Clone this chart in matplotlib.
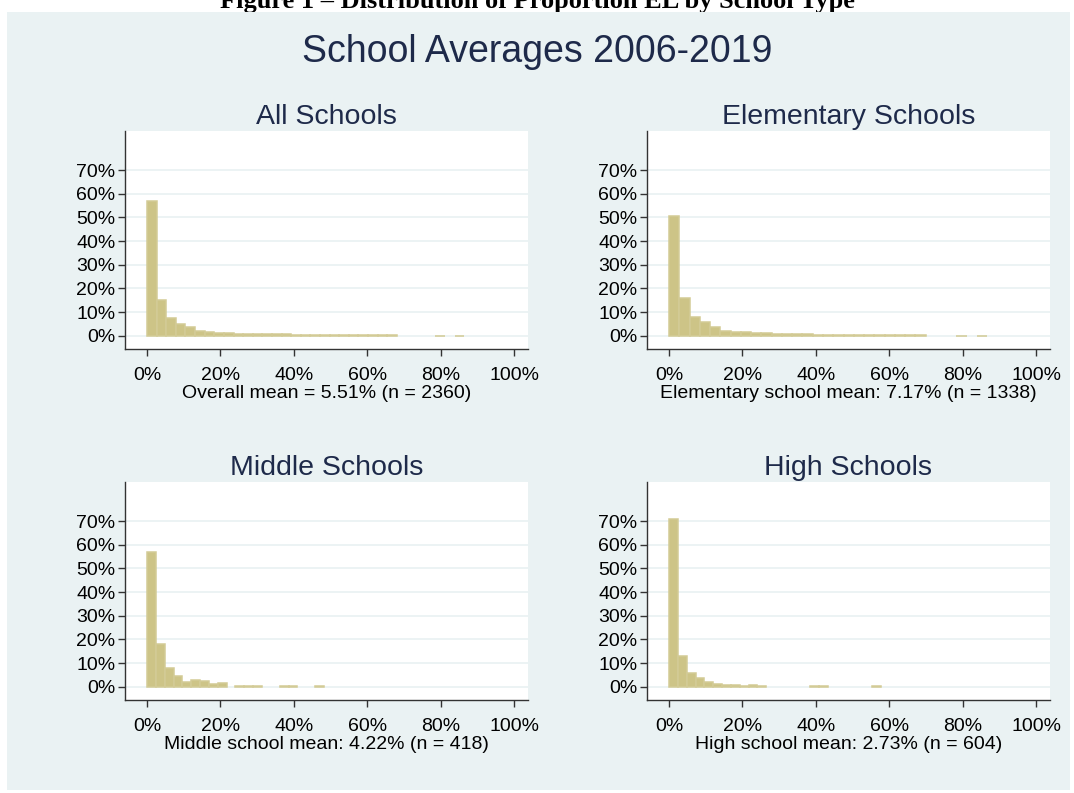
import matplotlib
matplotlib.use("Agg")
import matplotlib.pyplot as plt
from matplotlib.patches import Rectangle
import numpy as np

plt.rcParams["font.family"] = ["Liberation Sans", "DejaVu Sans"]

# histogram data: share of schools (%) per bin, bins start at 0%
all_max = 86.4
all_pct = [56.9, 15.0, 7.7, 4.9, 3.5, 2.1, 1.7, 1.3, 1.3, 0.9, 0.9, 0.55, 0.55, 0.55, 0.55,
           0.2, 0.2, 0.2, 0.2, 0.2, 0.2, 0.2, 0.2, 0.2, 0.2, 0.2, 0, 0, 0, 0, 0.04, 0, 0.04]

elem_max = 86.7
elem_pct = [50.6, 15.9, 8.1, 5.9, 3.9, 2.2, 1.6, 1.5, 1.1, 1.1, 0.8, 0.8, 0.6, 0.6, 0.5, 0.5,
            0.4, 0.4, 0.4, 0.3, 0.3, 0.3, 0.3, 0.3, 0.3, 0, 0, 0, 0.07, 0, 0.07]

mid_max = 48.2
mid_pct = [57.1, 17.9, 7.9, 4.65, 1.8, 2.8, 2.3, 0.96, 1.5, 0, 0.48, 0.24, 0.24, 0, 0,
           0.24, 0.24, 0, 0, 0.24]

high_max = 57.8
high_pct = [70.9, 13.1, 5.8, 3.7, 2.1, 1.1, 0.8, 0.66, 0.17, 0.83, 0.5, 0, 0, 0, 0, 0,
            0.33, 0.33, 0, 0, 0, 0, 0, 0.17]

titles = ["All Schools", "Elementary Schools", "Middle Schools", "High Schools"]
notes = ["Overall mean = 5.51% (n = 2360)",
         "Elementary school mean: 7.17% (n = 1338)",
         "Middle school mean: 4.22% (n = 418)",
         "High school mean: 2.73% (n = 604)"]

x_ticks = [0, 20, 40, 60, 80, 100]
y_ticks = [0, 10, 20, 30, 40, 50, 60, 70]

BG = "#eaf2f3"
BAR = "#cdc487"
TITLE_C = "#1e2a4a"

W, H = 1074, 793
fig = plt.figure(figsize=(W / 100, H / 100), dpi=100, facecolor="white")

# stata-like graph region, behind the axes
fig.patches.append(Rectangle((7 / W, 1 - 790 / H), 1063 / W, 778 / H,
                             transform=fig.transFigure, facecolor=BG,
                             edgecolor="none", zorder=-5))
# caption of the report, cut at the top edge like in the source
fig.text(0.5, 1 - 8 / H, "Figure 1 – Distribution of Proportion EL by School Type",
         ha="center", va="baseline", fontsize=19, fontweight="bold",
         family=["Liberation Serif", "DejaVu Serif"], zorder=-6)
fig.text(0.5, 1 - 52 / H, "School Averages 2006-2019", ha="center", va="center",
         fontsize=27, color=TITLE_C)


def px_axes(left, top, right, bottom):
    return fig.add_axes([left / W, 1 - bottom / H, (right - left) / W, (bottom - top) / H])


boxes = [(125, 131, 528, 349), (647, 131, 1050, 349),
         (125, 482, 528, 700), (647, 482, 1050, 700)]
data = [(all_max, all_pct), (elem_max, elem_pct), (mid_max, mid_pct), (high_max, high_pct)]

for box, (mx, pct), title, note in zip(boxes, data, titles, notes):
    ax = px_axes(*box)
    pct = np.array(pct)
    width = mx / len(pct)
    edges = np.arange(len(pct)) * width
    keep = pct > 0
    ax.bar(edges[keep], pct[keep], width=width, align="edge", color=BAR,
           edgecolor="#d3cb96", linewidth=1.1, zorder=3)

    ax.set_xlim(-6, 103.8)
    ax.set_ylim(-5.6, 86.5)
    ax.set_xticks(x_ticks)
    ax.set_xticklabels([f"{t}%" for t in x_ticks])
    ax.set_yticks(y_ticks)
    ax.set_yticklabels([f"{t}%" for t in y_ticks])
    ax.tick_params(axis="both", labelsize=14, length=5, width=1, color="#333333")
    ax.tick_params(axis="x", pad=8)
    ax.tick_params(axis="y", pad=2)
    ax.grid(axis="y", color=BG, linewidth=1.3, zorder=0)
    ax.set_axisbelow(True)
    for side in ["top", "right"]:
        ax.spines[side].set_visible(False)
    for side in ["left", "bottom"]:
        ax.spines[side].set_color("#333333")
        ax.spines[side].set_linewidth(1)
    ax.set_title(title, fontsize=20.5, color=TITLE_C, pad=5)
    ax.set_xlabel(note, fontsize=14, labelpad=1)

fig.savefig("out.png", dpi=100, facecolor="white")
